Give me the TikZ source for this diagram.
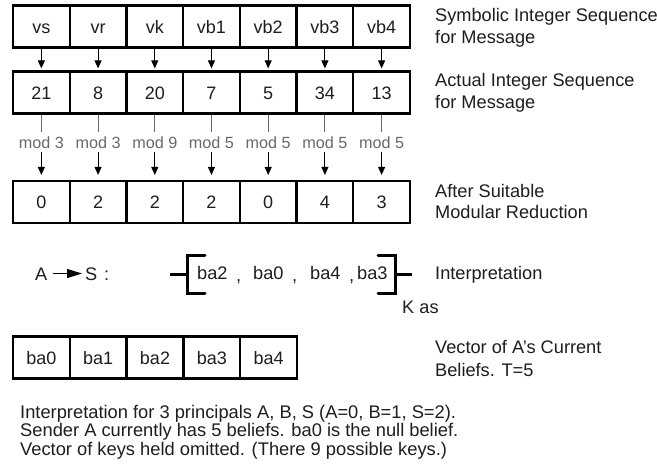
\documentclass[tikz,border=0pt]{standalone}
\usepackage{fontspec}
\setmainfont{Liberation Sans}
\usetikzlibrary{arrows.meta}
\definecolor{txt}{HTML}{1E1E1E}
\definecolor{modgray}{HTML}{6A6A6A}
\begin{document}
\begin{tikzpicture}[x=1pt,y=-1pt,
  cell/.style={draw=black, line width=2.2pt, minimum width=56.7pt, minimum height=42pt,
    inner sep=0pt, text height=13pt, text depth=0pt, text=txt, font=\fontsize{18}{18}\selectfont},
  modlbl/.style={text=modgray, inner sep=0pt, minimum height=20pt, text height=12pt, text depth=0pt,
    font=\fontsize{16.2}{16}\selectfont},
  lbl/.style={anchor=base west, inner sep=0pt, text=txt, font=\fontsize{18.2}{18}\selectfont},
  arr/.style={draw=black, line width=0.9pt, -{Triangle[length=8pt,width=7pt]}},
  gline/.style={draw=modgray, line width=0.9pt},
  brk/.style={draw=black, line width=3pt},
  bigarr/.style={draw=black, line width=1pt, -{Triangle[length=15pt,width=9pt]}},
  sym/.style={anchor=base west, inner sep=0pt, text height=13pt, text depth=0pt, text=txt,
    font=\fontsize{18.2}{18}\selectfont}]
\fill[white] (0,0) rectangle (657,472);
\useasboundingbox (0,0) rectangle (657,472);

% row 1: symbolic sequence
\foreach \t [count=\i] in {vs,vr,vk,vb1,vb2,vb3,vb4}
  \node[cell] (a\i) at ({13+56.71*(\i-0.5)},26.5) {\t};
% row 2: actual values
\foreach \t [count=\i] in {21,8,20,7,5,34,13}
  \node[cell] (b\i) at ({13+56.71*(\i-0.5)},92.5) {\t};
% mod labels
\foreach \t [count=\i] in {3,3,9,5,5,5,5}
  \node[modlbl] (m\i) at ({13+56.71*(\i-0.5)},142) {mod \t};
% row 3: reduced values
\foreach \t [count=\i] in {0,2,2,2,0,4,3}
  \node[cell] (c\i) at ({13+56.71*(\i-0.5)},202) {\t};

\foreach \i in {1,...,7} {
  \draw[arr, shorten >=2pt] (a\i) -- (b\i);
  \draw[gline] (b\i) -- (m\i);
  \draw[arr, shorten >=5pt] (m\i) -- (c\i);
}

% right-hand labels
\node[lbl] (l1a) at (435,21) {Symbolic Integer Sequence};
\node[lbl] (l1b) at (435,43) {for Message};
\node[lbl] (l2a) at (435,86) {Actual Integer Sequence};
\node[lbl] (l2b) at (435,108) {for Message};
\node[lbl] (l3a) at (435,197) {After Suitable};
\node[lbl] (l3b) at (435,218) {Modular Reduction};

% interpretation row
\node[sym] (pA) at (35,280) {A};
\node[sym] (pS) at (85,280) {S};
\node[sym] (pC) at (104,280) {:};
\draw[bigarr, shorten <=5pt, shorten >=3pt] (pA) -- (pS);

\draw[brk] (170,274) -- (187,274);
\draw[brk, line cap=round] (205,255) -- (187,255) -- (187,293) -- (205,293);
\draw[brk, line cap=round] (378,255) -- (395,255) -- (395,293) -- (378,293);
\draw[brk] (395,274) -- (412,274);

\node[lbl] (i1) at (197,279) {ba2};
\node[lbl] (k1) at (236,281) {,};
\node[lbl] (i2) at (253,279) {ba0};
\node[lbl] (k2) at (292,281) {,};
\node[lbl] (i3) at (310,279) {ba4};
\node[lbl] (k3) at (349,281) {,};
\node[lbl] (i4) at (357,279) {ba3};
\node[lbl] (interp) at (435,279) {Interpretation};
\node[lbl] (kas) at (402,313) {K as};

% beliefs vector
\foreach \t [count=\i] in {ba0,ba1,ba2,ba3,ba4}
  \node[cell] (d\i) at ({13+56.8*(\i-0.5)},357.5) {\t};
\node[lbl] (l4a) at (435,353) {Vector of A's Current};
\node[lbl] (l4b) at (435,376) {Beliefs. T=5};

% bottom notes
\node[lbl, font=\fontsize{18.3}{18}\selectfont] (n1) at (20,418) {Interpretation for 3 principals A, B, S (A=0, B=1, S=2).};
\node[lbl, font=\fontsize{18.3}{18}\selectfont] (n2) at (20,436.5) {Sender A currently has 5 beliefs. ba0 is the null belief.};
\node[lbl, font=\fontsize{18.3}{18}\selectfont] (n3) at (20,455) {Vector of keys held omitted. (There 9 possible keys.)};
\end{tikzpicture}
\end{document}
